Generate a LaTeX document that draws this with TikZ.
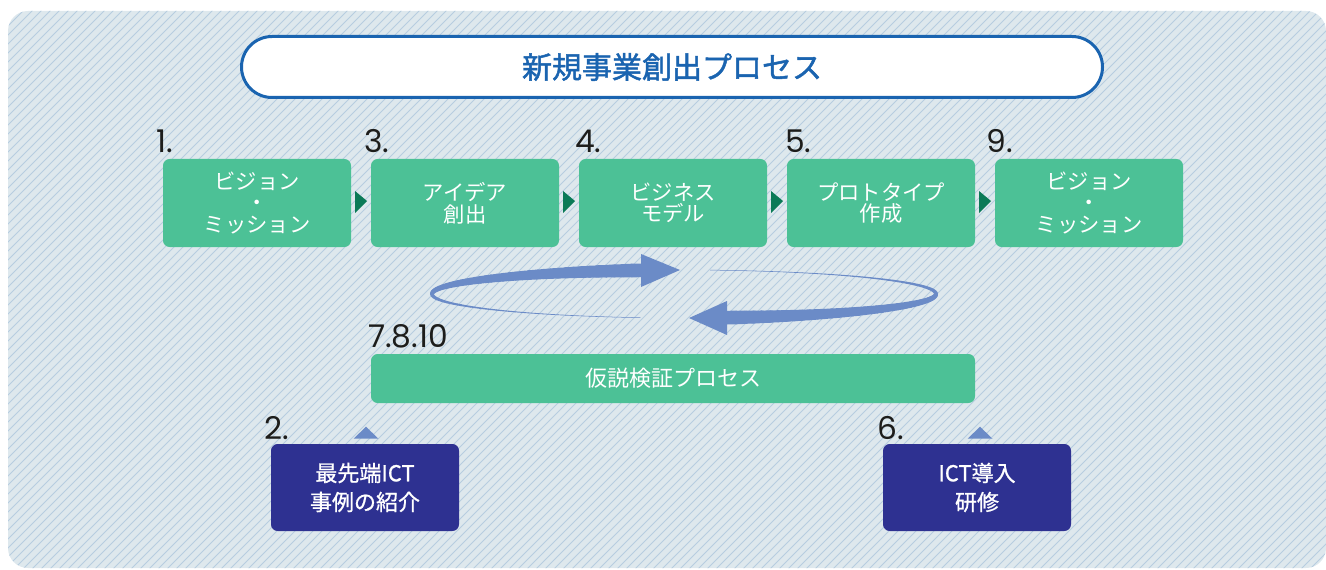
\documentclass[tikz,border=0pt]{standalone}
\usepackage{fontspec}
\setmainfont{Noto Sans CJK JP}
\newfontfamily\numfont{Poppins}
\newfontfamily\medfont[FakeBold=0.9]{Noto Sans CJK JP}
\newfontfamily\titfont[FakeBold=1.6]{Noto Sans CJK JP}
\usetikzlibrary{calc}
\definecolor{panelbg}{HTML}{DEE8ED}
\definecolor{stripec}{HTML}{B7CDE0}
\definecolor{titleblue}{HTML}{1A64B0}
\definecolor{boxgreen}{HTML}{4CC196}
\definecolor{darkgreen}{HTML}{0B7A57}
\definecolor{navy}{HTML}{2E3191}
\definecolor{arrowblue}{HTML}{6B8BC7}
\definecolor{numcol}{HTML}{1D1D1B}
\tikzset{
  greenbox/.style={fill=boxgreen, rounded corners=5pt, inner sep=0pt, minimum width=141pt, minimum height=66pt, text=white, align=center, font=\fontsize{16}{16.2}\selectfont},
  longbox/.style={fill=boxgreen, rounded corners=5pt, inner sep=0pt, minimum width=453pt, minimum height=36.75pt, text=white, font=\fontsize{16.5}{16.5}\selectfont},
  navybox/.style={fill=navy, rounded corners=5pt, inner sep=0pt, minimum width=141pt, minimum height=65.25pt, text=white, align=center, font=\medfont\fontsize{16.5}{21.75}\selectfont},
  numlabel/.style={anchor=base west, inner sep=0pt, text=numcol, font=\numfont\fontsize{23.5}{23.5}\selectfont},
  titlebox/.style={draw=titleblue, line width=2.25pt, fill=white, rounded corners=22.9pt, inner sep=0pt, minimum width=645.75pt, minimum height=45.75pt, text=titleblue, font=\titfont\fontsize{22.5}{22.5}\selectfont},
  stripe/.style={stripec, line width=0.6pt},
  tri/.style={fill=darkgreen},
  uptri/.style={fill=arrowblue}
}
\begin{document}
\begin{tikzpicture}[x=0.75pt,y=-0.75pt]
\useasboundingbox (0,0) rectangle (1326,570);
% panel
\begin{scope}
\clip[rounded corners=15pt] (8,11) rectangle (1326,568);
\fill[panelbg] (0,0) rectangle (1326,570);
\foreach \i in {-600,-591,...,1330} \draw[stripe] (\i,580) -- ++(600,-600);
\end{scope}
% title
\node[titlebox] (title) at (672,67) {新規事業創出プロセス};
% green boxes
\node[greenbox] (b1) at (257,203) {ビジョン\\・\\ミッション};
\node[greenbox] (b2) at (465,203) {アイデア\\創出};
\node[greenbox] (b3) at (673,203) {ビジネス\\モデル};
\node[greenbox] (b4) at (881,203) {プロトタイプ\\作成};
\node[greenbox] (b5) at (1089,203) {ビジョン\\・\\ミッション};
% number labels
\node[numlabel] (n1) at (156,153) {1.};
\node[numlabel] (n3) at (364,153) {3.};
\node[numlabel] (n4) at (575,153) {4.};
\node[numlabel] (n5) at (785,153) {5.};
\node[numlabel] (n9) at (986,153) {9.};
\node[numlabel] (n7) at (368,347) {7.8.10};
\node[numlabel] (n2) at (264,439) {2.};
\node[numlabel] (n6) at (877,439) {6.};
% triangles between boxes
\foreach \a/\b in {b1/b2,b2/b3,b3/b4,b4/b5} {
  \coordinate (m) at ($(\a.east)!0.5!(\b.west)$);
  \fill[tri] ($(m)+(-6,-12)$) -- ($(m)+(6,-2)$) -- ($(m)+(-6,10)$) -- cycle;
}
% long box
\node[longbox] (hyp) at (673,378.5) {仮説検証プロセス};
% navy boxes
\node[navybox] (c1) at (365,487.5) {最先端ICT\\事例の紹介};
\node[navybox] (c2) at (977,487.5) {ICT導入\\研修};
% up triangles
\coordinate (u1) at ($(c1.north)+(1,-11)$);
\coordinate (u2) at ($(c2.north)+(3,-11)$);
\fill[uptri] ($(u1)+(-12.5,6)$) -- ($(u1)+(0,-6)$) -- ($(u1)+(12.5,6)$) -- cycle;
\fill[uptri] ($(u2)+(-12.5,6)$) -- ($(u2)+(0,-6)$) -- ($(u2)+(12.5,6)$) -- cycle;
% cycle arrows
\foreach \t in {100,102,...,258} {
  \pgfmathsetmacro\w{(0.5+13.5*((\t-100)/160)^2)*0.75}
  \draw[arrowblue, line width=\w pt, line cap=round] ({684+252*cos(\t)},{294+24*sin(\t)}) -- ({684+252*cos(\t+2)},{294+24*sin(\t+2)});
}
\fill[arrowblue] (641,254) -- (680,270) -- (641,287) -- cycle;
\foreach \t in {276,278,...,438} {
  \pgfmathsetmacro\w{(0.5+13.5*((\t-276)/164)^2)*0.75}
  \draw[arrowblue, line width=\w pt, line cap=round] ({684+252*cos(\t)},{294+24*sin(\t)}) -- ({684+252*cos(\t+2)},{294+24*sin(\t+2)});
}
\fill[arrowblue] (727,301) -- (689,318) -- (727,335) -- cycle;
\end{tikzpicture}
\end{document}
